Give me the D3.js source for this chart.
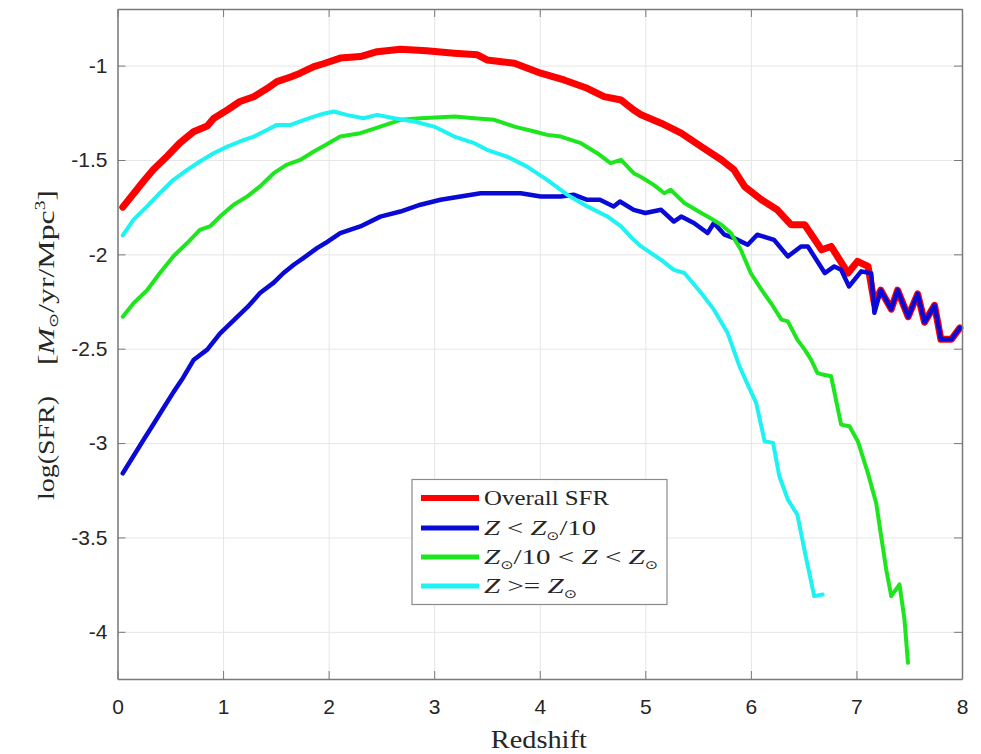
<!DOCTYPE html>
<html>
<head>
<meta charset="utf-8">
<script src="https://cdn.jsdelivr.net/npm/d3@7"></script>
<style>
  html, body { margin: 0; padding: 0; background: #fff; }
  svg { display: block; }
</style>
</head>
<body>
<svg id="chart" width="981" height="754"></svg>
<script>
// ---------------- data (redshift, log SFR) ----------------
const overallSFR = [
  [0.05,-1.75],[0.15,-1.68],[0.25,-1.61],[0.34,-1.55],[0.47,-1.48],[0.59,-1.41],
  [0.72,-1.35],[0.85,-1.32],[0.91,-1.28],[1.04,-1.235],[1.16,-1.19],[1.29,-1.165],
  [1.42,-1.12],[1.51,-1.085],[1.64,-1.06],[1.73,-1.04],[1.86,-1.005],[1.95,-0.99],
  [2.11,-0.96],[2.30,-0.952],[2.46,-0.926],[2.68,-0.913],[2.93,-0.921],[3.19,-0.934],
  [3.41,-0.943],[3.50,-0.97],[3.76,-0.987],[4.01,-1.04],[4.23,-1.076],[4.45,-1.12],
  [4.61,-1.164],[4.77,-1.182],[4.89,-1.235],[4.96,-1.26],[5.15,-1.305],[5.34,-1.358],
  [5.53,-1.429],[5.72,-1.499],[5.84,-1.552],[5.94,-1.64],[6.10,-1.711],[6.25,-1.764],
  [6.38,-1.843],[6.51,-1.843],[6.67,-1.976],[6.76,-1.958],[6.92,-2.099],[7.01,-2.037],
  [7.11,-2.064],[7.17,-2.26],[7.23,-2.19],[7.33,-2.29],[7.39,-2.19],[7.49,-2.33],
  [7.58,-2.21],[7.645,-2.36],[7.74,-2.27],[7.80,-2.45],[7.90,-2.45],[7.98,-2.39]
];
const lowZ = [
  [0.05,-3.16],[0.15,-3.07],[0.25,-2.98],[0.34,-2.90],[0.44,-2.81],[0.53,-2.73],
  [0.62,-2.655],[0.72,-2.56],[0.85,-2.505],[0.97,-2.42],[1.10,-2.35],[1.23,-2.28],
  [1.35,-2.205],[1.48,-2.15],[1.57,-2.10],[1.67,-2.055],[1.76,-2.02],[1.89,-1.967],
  [1.97,-1.94],[2.11,-1.887],[2.30,-1.852],[2.49,-1.80],[2.68,-1.773],[2.87,-1.737],
  [3.06,-1.711],[3.25,-1.693],[3.44,-1.676],[3.63,-1.676],[3.82,-1.676],[4.01,-1.693],
  [4.20,-1.693],[4.32,-1.684],[4.45,-1.711],[4.57,-1.711],[4.70,-1.746],[4.76,-1.72],
  [4.89,-1.764],[5.00,-1.781],[5.15,-1.764],[5.27,-1.826],[5.34,-1.80],[5.46,-1.834],
  [5.59,-1.887],[5.65,-1.834],[5.75,-1.896],[5.84,-1.914],[5.97,-1.949],[6.06,-1.896],
  [6.22,-1.923],[6.35,-2.011],[6.475,-1.958],[6.54,-1.958],[6.70,-2.099],[6.79,-2.064],
  [6.855,-2.082],[6.93,-2.17],[7.045,-2.09],[7.14,-2.10],[7.17,-2.31],[7.23,-2.19],
  [7.33,-2.29],[7.39,-2.19],[7.49,-2.33],[7.58,-2.21],[7.645,-2.36],[7.74,-2.27],
  [7.80,-2.45],[7.90,-2.45],[7.98,-2.39]
];
const midZ = [
  [0.05,-2.33],[0.15,-2.26],[0.28,-2.19],[0.40,-2.10],[0.53,-2.01],[0.66,-1.94],
  [0.78,-1.87],[0.88,-1.85],[0.97,-1.80],[1.10,-1.737],[1.23,-1.693],[1.35,-1.64],
  [1.48,-1.57],[1.60,-1.526],[1.73,-1.50],[1.86,-1.455],[1.97,-1.42],[2.11,-1.376],
  [2.30,-1.358],[2.49,-1.323],[2.68,-1.287],[2.87,-1.279],[3.06,-1.273],[3.19,-1.27],
  [3.38,-1.279],[3.57,-1.287],[3.76,-1.323],[3.95,-1.349],[4.07,-1.367],[4.20,-1.376],
  [4.39,-1.411],[4.545,-1.464],[4.67,-1.517],[4.77,-1.499],[4.89,-1.57],[4.96,-1.59],
  [5.08,-1.632],[5.18,-1.676],[5.24,-1.658],[5.37,-1.728],[5.53,-1.781],[5.59,-1.80],
  [5.72,-1.843],[5.81,-1.887],[5.905,-1.976],[6.00,-2.10],[6.10,-2.187],[6.19,-2.258],
  [6.29,-2.346],[6.35,-2.355],[6.44,-2.452],[6.51,-2.505],[6.57,-2.558],[6.63,-2.628],
  [6.68,-2.637],[6.76,-2.646],[6.855,-2.902],[6.934,-2.911],[7.013,-2.99],[7.108,-3.158],
  [7.187,-3.317],[7.234,-3.493],[7.282,-3.67],[7.33,-3.811],[7.408,-3.749],[7.455,-3.934],
  [7.488,-4.164]
];
const highZ = [
  [0.05,-1.90],[0.15,-1.817],[0.28,-1.746],[0.40,-1.676],[0.53,-1.605],[0.66,-1.552],
  [0.78,-1.508],[0.91,-1.464],[1.04,-1.429],[1.16,-1.402],[1.29,-1.376],[1.42,-1.34],
  [1.51,-1.314],[1.64,-1.314],[1.73,-1.296],[1.86,-1.27],[1.95,-1.255],[2.05,-1.243],
  [2.17,-1.261],[2.33,-1.279],[2.46,-1.261],[2.62,-1.279],[2.81,-1.296],[3.00,-1.323],
  [3.19,-1.376],[3.38,-1.411],[3.50,-1.446],[3.69,-1.482],[3.88,-1.535],[4.07,-1.605],
  [4.26,-1.684],[4.45,-1.746],[4.64,-1.799],[4.77,-1.852],[4.89,-1.923],[4.96,-1.958],
  [5.15,-2.029],[5.27,-2.082],[5.37,-2.099],[5.53,-2.205],[5.65,-2.293],[5.78,-2.417],
  [5.89,-2.59],[5.97,-2.69],[6.05,-2.787],[6.13,-2.99],[6.21,-2.999],[6.27,-3.176],
  [6.35,-3.299],[6.44,-3.379],[6.52,-3.60],[6.60,-3.811],[6.68,-3.802]
];
const xTicks = [0,1,2,3,4,5,6,7,8];
const yTicks = [-4,-3.5,-3,-2.5,-2,-1.5,-1];
const xDomain = [0, 8];
const yDomain = [-4.25, -0.7];

// ---------------- layout ----------------
const L = 117.5, R = 962, T = 9, B = 679;
const svg = d3.select("#chart");
const x = d3.scaleLinear().domain(xDomain).range([L, R]);
const y = d3.scaleLinear().domain(yDomain).range([B, T]);
const axisCol = "#7a7a7a", gridCol = "#e6e6e6", textCol = "#262626";

// grid
svg.append("g").attr("transform", `translate(0,${B})`)
  .call(d3.axisBottom(x).tickValues(xTicks).tickSize(-(B - T)).tickFormat(""))
  .call(g => { g.select(".domain").remove(); g.selectAll("line").attr("stroke", gridCol); });
svg.append("g").attr("transform", `translate(${L},0)`)
  .call(d3.axisLeft(y).tickValues(yTicks).tickSize(-(R - L)).tickFormat(""))
  .call(g => { g.select(".domain").remove(); g.selectAll("line").attr("stroke", gridCol); });

// series
const line = d3.line().x(d => x(d[0])).y(d => y(d[1]));
const series = [
  {name: "Overall SFR", data: overallSFR, color: "#ff0000", w: 7},
  {name: "low", data: lowZ, color: "#0a0ad6", w: 4.5},
  {name: "mid", data: midZ, color: "#1ee61e", w: 4},
  {name: "high", data: highZ, color: "#1ef2f2", w: 4}
];
svg.append("g").selectAll("path").data(series).join("path")
  .attr("d", d => line(d.data))
  .attr("fill", "none")
  .attr("stroke", d => d.color)
  .attr("stroke-width", d => d.w)
  .attr("stroke-linejoin", "round")
  .attr("stroke-linecap", "round");

// axes (box with inward ticks)
const styleAxis = g => {
  g.select(".domain").attr("stroke", axisCol).attr("stroke-width", 1.5);
  g.selectAll(".tick line").attr("stroke", axisCol);
  g.selectAll("text").attr("fill", textCol)
    .attr("font-family", "'Liberation Sans', Arial, sans-serif").attr("font-size", 21);
};
const fmt = d => String(d);
svg.append("g").attr("transform", `translate(0,${B})`)
  .call(d3.axisBottom(x).tickValues(xTicks).tickSizeInner(-8).tickSizeOuter(0).tickPadding(20).tickFormat(fmt))
  .call(styleAxis);
svg.append("g").attr("transform", `translate(0,${T})`)
  .call(d3.axisTop(x).tickValues(xTicks).tickSizeInner(-8).tickSizeOuter(0).tickFormat(""))
  .call(styleAxis);
svg.append("g").attr("transform", `translate(${L},0)`)
  .call(d3.axisLeft(y).tickValues(yTicks).tickSizeInner(-8).tickSizeOuter(0).tickPadding(10).tickFormat(fmt))
  .call(styleAxis);
svg.append("g").attr("transform", `translate(${R},0)`)
  .call(d3.axisRight(y).tickValues(yTicks).tickSizeInner(-8).tickSizeOuter(0).tickFormat(""))
  .call(styleAxis);

// axis labels
const serif = "'Liberation Serif', 'Times New Roman', serif";
svg.append("text").attr("x", (L + R) / 2 - 1).attr("y", 748)
  .attr("text-anchor", "middle").attr("font-family", serif).attr("font-size", 26)
  .attr("fill", textCol).attr("textLength", 96).attr("lengthAdjust", "spacingAndGlyphs")
  .text("Redshift");

const yl1 = svg.append("text").attr("transform", "translate(54,500) rotate(-90)")
  .attr("font-family", serif).attr("font-size", 23).attr("fill", textCol)
  .attr("textLength", 104).attr("lengthAdjust", "spacingAndGlyphs")
  .text("log(SFR)");
const yl2 = svg.append("text").attr("transform", "translate(54,365) rotate(-90)")
  .attr("font-family", serif).attr("font-size", 23).attr("fill", textCol)
  .attr("textLength", 175).attr("lengthAdjust", "spacingAndGlyphs");
yl2.append("tspan").text("[");
yl2.append("tspan").attr("font-style", "italic").text("M");
yl2.append("tspan").attr("font-size", 13).attr("dy", 4).attr("font-family", "'DejaVu Sans', sans-serif").text("⊙");
yl2.append("tspan").attr("dy", -4).text("/yr/Mpc");
yl2.append("tspan").attr("font-size", 14).attr("dy", -9).text("3");
yl2.append("tspan").attr("dy", 9).text("]");

// legend
const lg = svg.append("g");
lg.append("rect").attr("x", 412).attr("y", 479.5).attr("width", 255).attr("height", 125)
  .attr("fill", "#fff").attr("stroke", "#8a8a8a").attr("stroke-width", 1.2);
const rowsY = [498, 528, 557, 586];
const legendLabels = [
  [["Overall SFR", false, false]],
  [["Z", true, false], [" < ", false, false], ["Z", true, false], ["⊙", false, true], ["/10", false, false]],
  [["Z", true, false], ["⊙", false, true], ["/10 < ", false, false], ["Z", true, false], [" < ", false, false], ["Z", true, false], ["⊙", false, true]],
  [["Z", true, false], [" >= ", false, false], ["Z", true, false], ["⊙", false, true]]
];
const legendLens = [125, 112, 174, 93];
series.forEach((s, i) => {
  lg.append("line").attr("x1", 421).attr("x2", 479).attr("y1", rowsY[i]).attr("y2", rowsY[i])
    .attr("stroke", s.color).attr("stroke-width", i === 0 ? 6 : 5);
  const t = lg.append("text").attr("x", 484).attr("y", rowsY[i] + 7)
    .attr("font-family", serif).attr("font-size", 22).attr("fill", textCol)
    .attr("textLength", legendLens[i]).attr("lengthAdjust", "spacingAndGlyphs");
  legendLabels[i].forEach(([str, it, sub]) => {
    const ts = t.append("tspan").text(str);
    if (it) ts.attr("font-style", "italic");
    if (sub) ts.attr("font-size", 12).attr("dy", 5).attr("font-family", "'DejaVu Sans', sans-serif");
    else ts.attr("dy", 0);
  });
  // reset baseline after subscripts
  t.selectAll("tspan").each(function(d, j, nodes) {
    const prev = j > 0 ? legendLabels[i][j - 1][2] : false;
    const cur = legendLabels[i][j][2];
    d3.select(this).attr("dy", cur ? 5 : (prev ? -5 : 0));
  });
});
</script>
</body>
</html>
